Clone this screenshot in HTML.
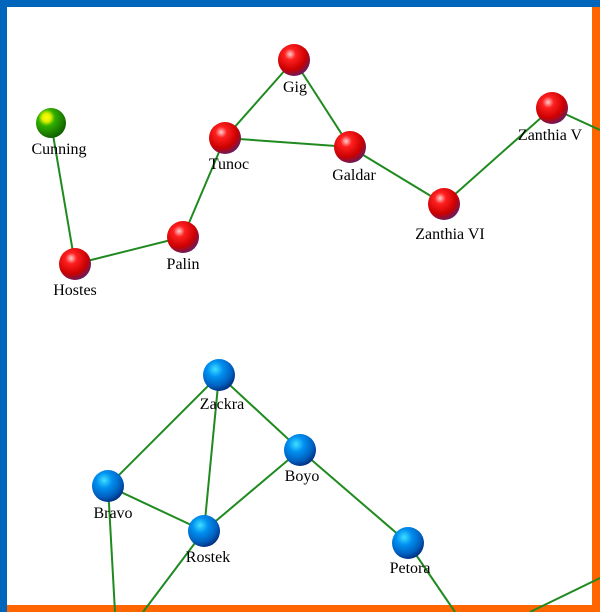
<!DOCTYPE html>
<html><head><style>html,body{margin:0;padding:0;background:#fff}svg{display:block}</style></head><body>
<svg width="600" height="612" viewBox="0 0 600 612" xmlns="http://www.w3.org/2000/svg">
<defs>
<radialGradient id="r" cx="0.38" cy="0.32" r="0.7"><stop offset="0" stop-color="#ffd0d0"/><stop offset="0.25" stop-color="#ff2020"/><stop offset="0.7" stop-color="#cc0000"/><stop offset="1" stop-color="#6a1a5a"/></radialGradient>
<radialGradient id="b" cx="0.38" cy="0.32" r="0.7"><stop offset="0" stop-color="#40e0ff"/><stop offset="0.35" stop-color="#0090f0"/><stop offset="0.75" stop-color="#0060c0"/><stop offset="1" stop-color="#003080"/></radialGradient>
<radialGradient id="g" cx="0.35" cy="0.32" r="0.7"><stop offset="0" stop-color="#ffff00"/><stop offset="0.2" stop-color="#e0f000"/><stop offset="0.4" stop-color="#30b000"/><stop offset="1" stop-color="#106000"/></radialGradient>
</defs>
<rect x="0" y="0" width="600" height="612" fill="#fff"/>
<rect x="0" y="0" width="600" height="7" fill="#0066bb"/>
<rect x="0" y="0" width="7" height="612" fill="#0066bb"/>
<rect x="592" y="7" width="8" height="605" fill="#ff6600"/>
<rect x="7" y="605" width="593" height="7" fill="#ff6600"/>
<g stroke="#1f8a1f" stroke-width="2" fill="none">
<line x1="51" y1="123" x2="75" y2="264"/>
<line x1="75" y1="264" x2="183" y2="237"/>
<line x1="183" y1="237" x2="225" y2="138"/>
<line x1="225" y1="138" x2="294" y2="60"/>
<line x1="225" y1="138" x2="350" y2="147"/>
<line x1="294" y1="60" x2="350" y2="147"/>
<line x1="350" y1="147" x2="444" y2="204"/>
<line x1="444" y1="204" x2="552" y2="108"/>
<line x1="552" y1="108" x2="600" y2="130"/>
<line x1="219" y1="375" x2="108" y2="486"/>
<line x1="219" y1="375" x2="204" y2="531"/>
<line x1="219" y1="375" x2="300" y2="450"/>
<line x1="108" y1="486" x2="204" y2="531"/>
<line x1="204" y1="531" x2="300" y2="450"/>
<line x1="300" y1="450" x2="408" y2="543"/>
<line x1="108" y1="486" x2="115" y2="612"/>
<line x1="204" y1="531" x2="143" y2="612"/>
<line x1="408" y1="543" x2="455" y2="612"/>
<line x1="600" y1="578" x2="530" y2="612"/>
</g>
<g>
<circle cx="51" cy="123" r="15" fill="url(#g)"/>
<circle cx="75" cy="264" r="16" fill="url(#r)"/>
<circle cx="183" cy="237" r="16" fill="url(#r)"/>
<circle cx="225" cy="138" r="16" fill="url(#r)"/>
<circle cx="294" cy="60" r="16" fill="url(#r)"/>
<circle cx="350" cy="147" r="16" fill="url(#r)"/>
<circle cx="444" cy="204" r="16" fill="url(#r)"/>
<circle cx="552" cy="108" r="16" fill="url(#r)"/>
<circle cx="219" cy="375" r="16" fill="url(#b)"/>
<circle cx="300" cy="450" r="16" fill="url(#b)"/>
<circle cx="108" cy="486" r="16" fill="url(#b)"/>
<circle cx="204" cy="531" r="16" fill="url(#b)"/>
<circle cx="408" cy="543" r="16" fill="url(#b)"/>
</g>
<g font-family="'Liberation Serif', serif" font-size="16" fill="#000" text-anchor="middle">
<text x="59" y="154">Cunning</text>
<text x="75" y="295">Hostes</text>
<text x="183" y="269">Palin</text>
<text x="229" y="169">Tunoc</text>
<text x="295" y="92">Gig</text>
<text x="354" y="180">Galdar</text>
<text x="450" y="239">Zanthia VI</text>
<text x="550" y="140">Zanthia V</text>
<text x="222" y="409">Zackra</text>
<text x="302" y="481">Boyo</text>
<text x="113" y="518">Bravo</text>
<text x="208" y="562">Rostek</text>
<text x="410" y="573">Petora</text>
</g>
</svg>
</body></html>
